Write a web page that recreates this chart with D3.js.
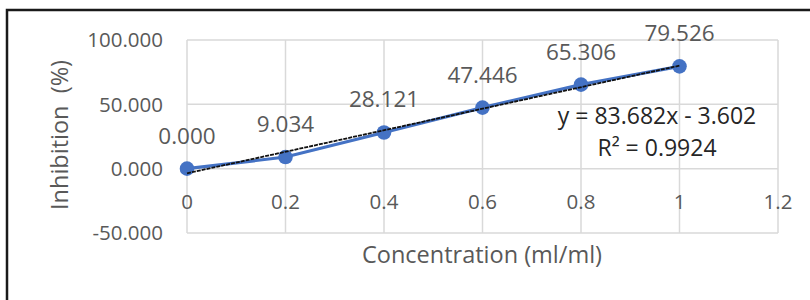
<!DOCTYPE html>
<meta charset="utf-8">
<style>
body { margin: 0; background: #fff; }
text { font-family: "Open Sans", sans-serif; }
.grid line { stroke: #d9d9d9; stroke-width: 1.5px; }
.tick-label { fill: #595959; font-size: 20.5px; }
.data-label { fill: #595959; font-size: 22.5px; }
.eq { fill: #262626; font-size: 23px; }
.title { fill: #595959; font-size: 23.5px; white-space: pre; }
</style>
<svg width="810" height="300"></svg>
<script src="https://d3js.org/d3.v7.min.js"></script>
<script>

// data
var concentration = [0, 0.2, 0.4, 0.6, 0.8, 1];
var inhibition = [0.000, 9.034, 28.121, 47.446, 65.306, 79.526];
var xTicks = [0, 0.2, 0.4, 0.6, 0.8, 1, 1.2];
var yTicks = [-50, 0, 50, 100];
var slope = 83.682, intercept = -3.602, r2 = 0.9924;

var svg = d3.select("svg");

var x = d3.scaleLinear().domain([0, 1.2]).range([187, 778]);
var y = d3.scaleLinear().domain([-50, 100]).range([233, 40]);

// excel uses a plain hyphen for negatives
var fmt3 = d3.formatLocale({decimal: ".", thousands: ",", grouping: [3], currency: ["", ""], minus: "-"}).format(".3f");

// outer frame (only top and left edges show)
svg.append("path")
    .attr("d", "M7,300V10H810")
    .attr("fill", "none")
    .attr("stroke", "#1a1a1a")
    .attr("stroke-width", 2.5);

var grid = svg.append("g").attr("class", "grid");

grid.selectAll(".h")
    .data(yTicks)
    .enter().append("line")
      .attr("x1", x(0)).attr("x2", x(1.2))
      .attr("y1", function(d) { return y(d); })
      .attr("y2", function(d) { return y(d); });

grid.selectAll(".v")
    .data(xTicks)
    .enter().append("line")
      .attr("y1", y(100)).attr("y2", y(-50))
      .attr("x1", function(d) { return x(d); })
      .attr("x2", function(d) { return x(d); });

// y tick labels
svg.append("g").selectAll("text")
    .data(yTicks)
    .enter().append("text")
      .attr("class", "tick-label")
      .attr("x", 163)
      .attr("y", function(d) { return y(d); })
      .attr("dy", "0.36em")
      .attr("text-anchor", "end")
      .text(function(d) { return fmt3(d); });

// x tick labels sit next to the axis at y = 0
svg.append("g").selectAll("text")
    .data(xTicks)
    .enter().append("text")
      .attr("class", "tick-label")
      .attr("x", function(d) { return x(d); })
      .attr("y", y(0) + 40)
      .attr("text-anchor", "middle")
      .text(function(d) { return d3.format("~g")(d); });

var pts = concentration.map(function(c, i) { return [c, inhibition[i]]; });

svg.append("path")
    .datum(pts)
    .attr("fill", "none")
    .attr("stroke", "#4472c4")
    .attr("stroke-width", 3.2)
    .attr("d", d3.line()
        .x(function(d) { return x(d[0]); })
        .y(function(d) { return y(d[1]); }));

svg.append("g").selectAll("circle")
    .data(pts)
    .enter().append("circle")
      .attr("cx", function(d) { return x(d[0]); })
      .attr("cy", function(d) { return y(d[1]); })
      .attr("r", 7.3)
      .attr("fill", "#4472c4");

// linear trendline
svg.append("path")
    .datum([0, 1])
    .attr("fill", "none")
    .attr("stroke", "#111")
    .attr("stroke-width", 1.8)
    .attr("stroke-dasharray", "4,1")
    .attr("d", d3.line()
        .x(function(d) { return x(d); })
        .y(function(d) { return y(slope * d + intercept); }));

svg.append("g").selectAll("text")
    .data(pts)
    .enter().append("text")
      .attr("class", "data-label")
      .attr("x", function(d) { return x(d[0]); })
      .attr("y", function(d) { return y(d[1]) - 25; })
      .attr("text-anchor", "middle")
      .text(function(d) { return fmt3(d[1]); });

svg.append("text")
    .attr("class", "eq")
    .attr("x", 657).attr("y", 124)
    .attr("text-anchor", "middle")
    .text("y = " + slope + "x - " + Math.abs(intercept));

svg.append("text")
    .attr("class", "eq")
    .attr("x", 657).attr("y", 156)
    .attr("text-anchor", "middle")
    .text("R² = " + r2);

svg.append("text")
    .attr("class", "title")
    .attr("x", 482).attr("y", 263)
    .attr("text-anchor", "middle")
    .text("Concentration (ml/ml)");

svg.append("text")
    .attr("class", "title")
    .attr("transform", "translate(68,135) rotate(-90)")
    .attr("text-anchor", "middle")
    .text("Inhibition  (%)");

</script>
